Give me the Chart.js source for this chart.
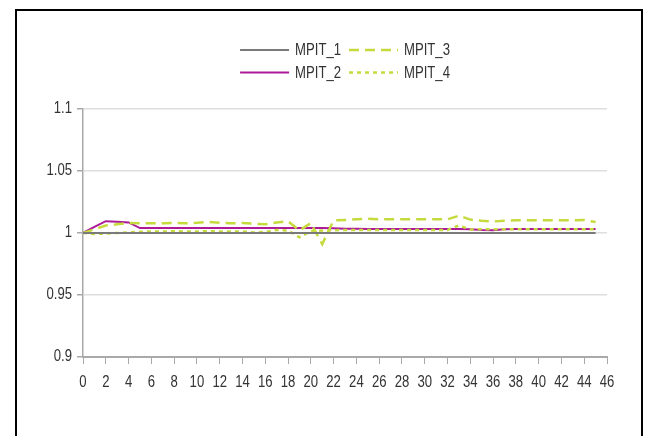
<!DOCTYPE html>
<html>
<head>
<meta charset="utf-8">
<script src="https://cdn.jsdelivr.net/npm/chart.js@4"></script>
<style>
  html, body { margin: 0; padding: 0; background: #fff; }
  #wrap { width: 652px; height: 436px; position: relative; }
</style>
</head>
<body>
<div id="wrap"><canvas id="c" width="652" height="436"></canvas></div>
<script>
// Period index (x) and the four MPIT series
const steps = [0,1,2,3,4,5,6,7,8,9,10,11,12,13,14,15,16,17,18,19,20,21,22,23,24,25,26,27,28,29,30,31,32,33,34,35,36,37,38,39,40,41,42,43,44,45];

const mpit1 = [1,1,1,1,1,1,1,1,1,1,1,1,1,1,1,1,1,1,1,1,1,1,1,1,1,1,1,1,1,1,1,1,1,1,1,1,1,1,1,1,1,1,1,1,1,1];

const mpit2 = [1.000,1.005,1.0095,1.009,1.0085,1.004,1.004,1.004,1.004,1.004,
               1.004,1.004,1.004,1.004,1.004,1.004,1.004,1.004,1.004,1.004,
               1.004,1.004,1.0038,1.0035,1.0034,1.0033,1.0033,1.0033,1.0033,1.0033,
               1.0033,1.0033,1.0033,1.0033,1.003,1.0025,1.0023,1.003,1.0033,1.0033,
               1.0033,1.0033,1.0033,1.0033,1.0033,1.0033];

const mpit3 = [1.000,1.003,1.006,1.007,1.008,1.0078,1.0078,1.0078,1.0082,1.0078,
               1.0082,1.009,1.0082,1.0078,1.008,1.0075,1.007,1.0085,1.0095,1.002,
               1.008,0.991,1.0102,1.0105,1.011,1.0115,1.011,1.011,1.011,1.011,
               1.011,1.011,1.011,1.014,1.0108,1.0098,1.0093,1.0098,1.0102,1.0102,
               1.0102,1.0102,1.0102,1.0103,1.0105,1.0088];

const mpit4 = [1.000,0.9992,0.9995,1.000,1.0005,1.001,1.0012,1.0012,1.0015,1.0012,
               1.0012,1.0015,1.0012,1.0012,1.0012,1.0005,1.0008,1.0025,1.002,0.9965,
               1.0015,1.002,1.0022,1.0025,1.0025,1.0025,1.0025,1.0025,1.0025,1.0025,
               1.0025,1.0025,1.0025,1.006,1.0028,1.003,1.003,1.003,1.003,1.003,
               1.003,1.003,1.003,1.003,1.003,1.003];

const seriesNames = ['MPIT_1', 'MPIT_2', 'MPIT_3', 'MPIT_4'];
const yTicks = [0.9, 0.95, 1, 1.05, 1.1];

const pts = arr => arr.map((v, i) => ({ x: steps[i], y: v }));

const LIME = '#c6da3e';
const FONT = '"Liberation Sans", Arial, sans-serif';
const TEXT = '#333';
const NARROW = 0.82; // horizontal squeeze giving a condensed face

function narrowText(ctx, str, x, y, align) {
  ctx.save();
  ctx.translate(x, y);
  ctx.scale(NARROW, 1);
  ctx.textAlign = align;
  ctx.fillText(str, 0, 0);
  ctx.restore();
}

// White page with a black frame around the whole figure
const framePlugin = {
  id: 'frame',
  beforeDraw(chart) {
    const ctx = chart.ctx;
    ctx.save();
    ctx.fillStyle = '#fff';
    ctx.fillRect(0, 0, chart.width, chart.height);
    ctx.strokeStyle = '#000';
    ctx.lineWidth = 2;
    ctx.strokeRect(16, 10, 626, 500);
    ctx.restore();
  }
};

// Condensed tick labels placed from the scales' own tick positions
const tickLabels = {
  id: 'tickLabels',
  afterDraw(chart) {
    const ctx = chart.ctx;
    const xs = chart.scales.x, ys = chart.scales.y;
    ctx.save();
    ctx.font = '16px ' + FONT;
    ctx.fillStyle = TEXT;
    ctx.textBaseline = 'middle';
    xs.ticks.forEach(t => {
      narrowText(ctx, String(t.value), xs.getPixelForValue(t.value), xs.top + 26, 'center');
    });
    ys.ticks.forEach(t => {
      narrowText(ctx, String(Math.round(t.value * 100) / 100), ys.right - 11, ys.getPixelForValue(t.value), 'right');
    });
    ctx.restore();
  }
};

// Two-row legend: MPIT_1 / MPIT_3 on top, MPIT_2 / MPIT_4 below
const legendRows = [[0, 2], [1, 3]];
const pairLegend = {
  id: 'pairLegend',
  afterDraw(chart) {
    const ctx = chart.ctx;
    const area = chart.chartArea;
    const sample = 49, textGap = 6, itemGap = 8, rowH = 22.5, firstRowY = 50;
    ctx.save();
    ctx.font = '16px ' + FONT;
    ctx.textBaseline = 'middle';
    const widths = chart.data.datasets.map(d => sample + textGap + ctx.measureText(d.label).width * NARROW);
    const colW = [Math.max(widths[0], widths[1]), Math.max(widths[2], widths[3])];
    const total = colW[0] + itemGap + colW[1];
    const left = (area.left + area.right) / 2 - total / 2;
    legendRows.forEach((row, r) => {
      const y = firstRowY + r * rowH;
      let x = left;
      row.forEach((di, c) => {
        const ds = chart.data.datasets[di];
        ctx.strokeStyle = ds.borderColor;
        ctx.lineWidth = ds.borderWidth;
        ctx.setLineDash(ds.borderDash || []);
        ctx.beginPath();
        ctx.moveTo(x, y);
        ctx.lineTo(x + sample, y);
        ctx.stroke();
        ctx.setLineDash([]);
        ctx.fillStyle = TEXT;
        narrowText(ctx, ds.label, x + sample + textGap, y + 1, 'left');
        x += colW[c] + itemGap;
      });
    });
    ctx.restore();
  }
};

new Chart(document.getElementById('c'), {
  type: 'line',
  data: {
    datasets: [
      { label: seriesNames[0], data: pts(mpit1), borderColor: '#7a7a7a', borderWidth: 2, order: 0 },
      { label: seriesNames[1], data: pts(mpit2), borderColor: '#ad1a98', borderWidth: 2, order: 3 },
      { label: seriesNames[2], data: pts(mpit3), borderColor: LIME, borderWidth: 2.5, borderDash: [10, 6], order: 2 },
      { label: seriesNames[3], data: pts(mpit4), borderColor: LIME, borderWidth: 2.5, borderDash: [4, 4], order: 1 }
    ]
  },
  options: {
    responsive: false,
    animation: false,
    events: [],
    elements: {
      point: { radius: 0 },
      line: { tension: 0, fill: false, backgroundColor: 'transparent' }
    },
    layout: { padding: { top: 109, right: 45, left: 18, bottom: 40 } },
    plugins: { legend: { display: false }, tooltip: { enabled: false } },
    scales: {
      x: {
        type: 'linear',
        min: 0,
        max: 46,
        afterFit(s) { s.height = 39; },
        border: { display: true, color: '#a9a9a9', width: 2 },
        grid: { drawOnChartArea: false, color: '#a9a9a9', tickLength: 7, lineWidth: 1 },
        ticks: { stepSize: 2, display: false, autoSkip: false }
      },
      y: {
        min: 0.9,
        max: 1.1,
        afterFit(s) { s.width = 65; },
        afterBuildTicks(s) { s.ticks = yTicks.map(v => ({ value: v })); },
        border: { display: true, color: '#a9a9a9', width: 1.5 },
        grid: { color: '#dedede', tickColor: '#a9a9a9', tickLength: 6, lineWidth: 1.5 },
        ticks: { display: false }
      }
    }
  },
  plugins: [framePlugin, tickLabels, pairLegend]
});
</script>
</body>
</html>
